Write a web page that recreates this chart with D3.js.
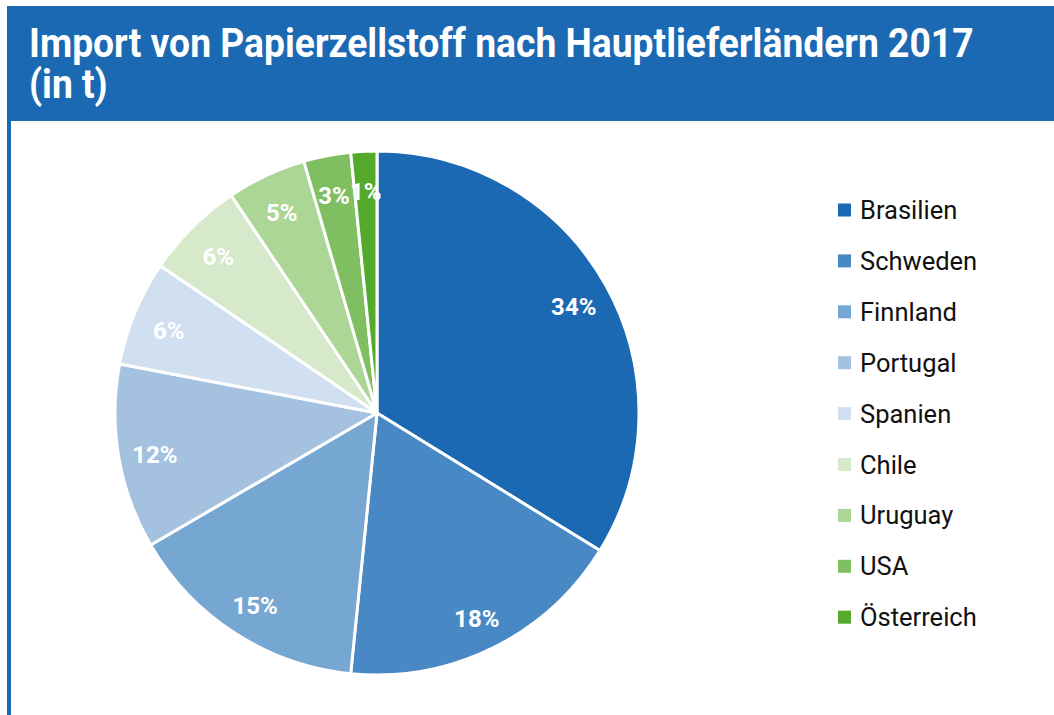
<!DOCTYPE html>
<html lang="de">
<head>
  <meta charset="utf-8">
  <title>Import von Papierzellstoff</title>
  <script src="https://cdn.jsdelivr.net/npm/d3@7"></script>
  <style>
    body { margin: 0; background: #fff; }
    svg { display: block; }
  </style>
</head>
<body>
  <div id="chart-area"></div>

  <script>
    // Daten (Anteile in %)
    var countries = ["Brasilien", "Schweden", "Finnland", "Portugal", "Spanien", "Chile", "Uruguay", "USA", "Österreich"];
    var shares = [33.8, 17.8, 15.0, 11.4, 6.5, 6.1, 4.9, 2.9, 1.6];
    var labels = ["34%", "18%", "15%", "12%", "6%", "6%", "5%", "3%", "1%"];
    var colors = ["#1b69b3", "#4889c5", "#76a6d2", "#a4c2e0", "#d0e0f0", "#d6eacb", "#acd696", "#7fbf61", "#55aa2b"];

    var svgWidth = 1054;
    var svgHeight = 715;
    var blue = "#1b69b3";

    var svg = d3.select("#chart-area")
                .append("svg")
                .attr("width", svgWidth)
                .attr("height", svgHeight);

    // Rahmen + Titelleiste
    svg.append("rect")
       .attr("x", 7).attr("y", 6)
       .attr("width", svgWidth - 7).attr("height", 115)
       .attr("fill", blue);
    svg.append("rect")
       .attr("x", 7).attr("y", 120)
       .attr("width", 4).attr("height", svgHeight - 120)
       .attr("fill", blue);

    var titleG = svg.append("g");
    var t1 = titleG.append("text")
                   .attr("x", 0).attr("y", 57)
                   .attr("fill", "#fff")
                   .attr("font-family", "Roboto, sans-serif")
                   .attr("font-weight", 700)
                   .attr("font-size", 41)
                   .text("Import von Papierzellstoff nach Hauptlieferländern 2017");
    titleG.append("text")
          .attr("x", 0).attr("y", 98)
          .attr("fill", "#fff")
          .attr("font-family", "Roboto, sans-serif")
          .attr("font-weight", 700)
          .attr("font-size", 41)
          .text("(in t)");
    var w1 = t1.node().getComputedTextLength();
    titleG.attr("transform", "translate(29,0) scale(" + (945 / w1) + ",1)");

    // Kreisdiagramm
    var cx = 377, cy = 413, radius = 262;
    var data = countries.map(function(c, i) { return { name: c, value: shares[i], label: labels[i], color: colors[i] }; });

    var pie = d3.pie().sort(null).value(function(d) { return d.value; });
    var arc = d3.arc().innerRadius(0).outerRadius(radius);
    var labelArc = d3.arc().innerRadius(radius * 0.86).outerRadius(radius * 0.86);

    var pieG = svg.append("g")
                  .attr("transform", "translate(" + cx + "," + cy + ")");

    var arcs = pie(data);

    pieG.selectAll("path")
        .data(arcs)
        .enter()
        .append("path")
        .attr("d", arc)
        .attr("fill", function(d) { return d.data.color; })
        .attr("stroke", "#fff")
        .attr("stroke-width", 3)
        .attr("stroke-linejoin", "round");

    pieG.selectAll("text")
        .data(arcs)
        .enter()
        .append("text")
        .attr("transform", function(d) {
          var c = labelArc.centroid(d);
          return "translate(" + c[0] + "," + (c[1] + 4) + ")";
        })
        .attr("text-anchor", "middle")
        .attr("dominant-baseline", "central")
        .attr("fill", "#fff")
        .attr("font-family", "Roboto, sans-serif")
        .attr("font-weight", 700)
        .attr("font-size", 24)
        .text(function(d) { return d.data.label; });

    // Legende
    var legend = svg.append("g").attr("transform", "translate(838,210)");
    var rows = legend.selectAll("g")
                     .data(data)
                     .enter()
                     .append("g")
                     .attr("transform", function(d, i) { return "translate(0," + (i * 50.9) + ")"; });
    rows.append("rect")
        .attr("x", 0).attr("y", -6.5)
        .attr("width", 13).attr("height", 13)
        .attr("fill", function(d) { return d.color; });
    rows.append("text")
        .attr("x", 22).attr("y", 0)
        .attr("dominant-baseline", "central")
        .attr("fill", "#111")
        .attr("font-family", "Roboto, sans-serif")
        .attr("font-size", 25.5)
        .text(function(d) { return d.name; });
  </script>
</body>
</html>
